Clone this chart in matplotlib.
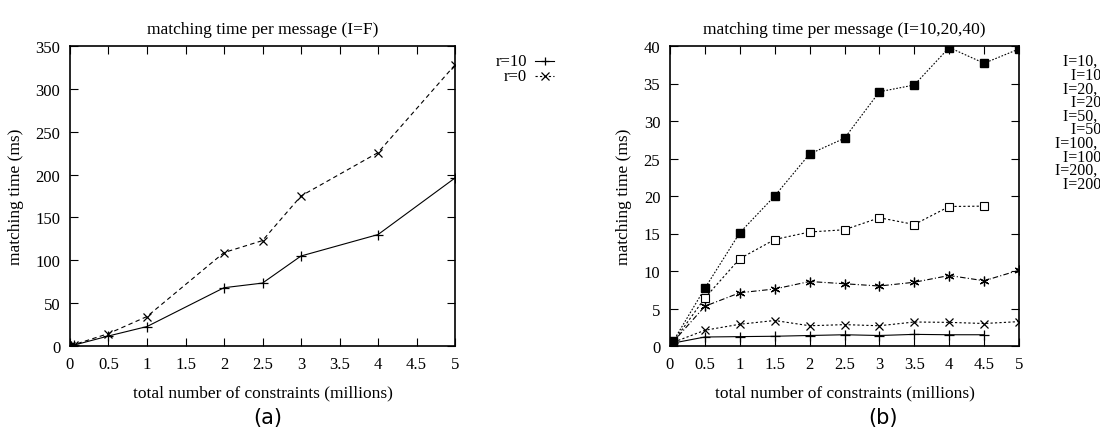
import matplotlib
matplotlib.use("Agg")
import matplotlib.pyplot as plt
from matplotlib.lines import Line2D

plt.rcParams['font.family'] = ['Liberation Serif', 'DejaVu Serif']

# ---------------- data (a) ----------------
x_a = [0.001, 0.01, 0.05, 0.5, 1, 2, 2.5, 3, 4, 5]
r10 = [0.05, 0.3, 1.0, 11.7, 22.7, 68, 73.4, 105, 130, 196]
r0 = [0.05, 0.4, 1.5, 14.5, 34.4, 109, 123, 175, 225.6, 328]
labels_a = ["r=10", "r=0"]
title_a = "matching time per message (I=F)"

# ---------------- data (b) ----------------
x_b = [0.01, 0.05, 0.5, 1, 1.5, 2, 2.5, 3, 3.5, 4, 4.5, 5]
s_plus = [0.1, 0.4, 1.2, 1.25, 1.3, 1.4, 1.5, 1.4, 1.55, 1.5, 1.5]
s_x = [0.15, 0.5, 2.1, 2.9, 3.4, 2.7, 2.85, 2.7, 3.2, 3.15, 3.0, 3.25]
s_star = [0.2, 0.6, 5.3, 7.1, 7.6, 8.6, 8.3, 8.0, 8.5, 9.4, 8.7, 10.1]
s_osq = [0.2, 0.6, 6.4, 11.65, 14.2, 15.2, 15.5, 17.1, 16.2, 18.6, 18.65]
s_fsq = [0.25, 0.7, 7.7, 15.1, 20.0, 25.6, 27.7, 33.9, 34.8, 39.8, 37.7, 39.6]
labels_b = ["I=10, r=10", "I=10, r=0", "I=20, r=10", "I=20, r=0",
            "I=50, r=10", "I=50, r=0", "I=100, r=10", "I=100, r=0",
            "I=200, r=10", "I=200, r=0"]
title_b = "matching time per message (I=10,20,40)"

xlabel = "total number of constraints (millions)"
ylabel = "matching time (ms)"
xticks = [0, 0.5, 1, 1.5, 2, 2.5, 3, 3.5, 4, 4.5, 5]
xticklabels = ["0", "0.5", "1", "1.5", "2", "2.5", "3", "3.5", "4", "4.5", "5"]

W, H = 1100, 435
fig = plt.figure(figsize=(11, 4.35), dpi=100)

def fx(px):
    return px / W

def fy(py):
    return 1 - py / H

fs = 12.5
fst = 12
ax1 = fig.add_axes([fx(70), fy(347), fx(455) - fx(70), fy(47) - fy(347)])
ax2 = fig.add_axes([fx(670), fy(347), fx(1019) - fx(670), fy(47) - fy(347)])

lw = 0.8
ax1.plot(x_a, r10, color='black', lw=lw, ls='-', marker='+', ms=7, mew=0.9)
ax1.plot(x_a, r0, color='black', lw=lw, ls=(0, (4, 3)), marker='x', ms=6, mew=0.9)
ax1.set_xlim(0, 5)
ax1.set_ylim(0, 350)
ax1.set_xticks(xticks)
ax1.set_xticklabels(xticklabels)
ax1.set_yticks(range(0, 351, 50))

n1 = len(s_plus)
n4 = len(s_osq)
ax2.plot(x_b[:n1], s_plus, color='black', lw=lw, ls='-', marker='+', ms=7, mew=0.9)
ax2.plot(x_b, s_x, color='black', lw=lw, ls=(0, (2, 2)), marker='x', ms=6, mew=0.9)
ax2.plot(x_b, s_star, color='black', lw=lw, ls=(0, (5, 2, 1, 2)), marker=(6, 2, 0), ms=7, mew=0.9)
ax2.plot(x_b[:n4], s_osq, color='black', lw=lw, ls=(0, (2, 2)), marker='s', ms=6,
         mfc='white', mec='black', mew=0.8)
ax2.plot(x_b, s_fsq, color='black', lw=lw, ls=(0, (1.5, 1.5)), marker='s', ms=6,
         mfc='black', mec='black')
ax2.set_xlim(0, 5)
ax2.set_ylim(0, 40)
ax2.set_xticks(xticks)
ax2.set_xticklabels(xticklabels)
ax2.set_yticks(range(0, 41, 5))

for ax, t in ((ax1, title_a), (ax2, title_b)):
    for s in ax.spines.values():
        s.set_linewidth(1.2)
    ax.tick_params(direction='in', top=True, right=True, length=6, width=0.8,
                   labelsize=fst, pad=7)
    ax.set_title(t, fontsize=fs, pad=9)
    ax.set_xlabel(xlabel, fontsize=fs, labelpad=9)
    ax.set_ylabel(ylabel, fontsize=fs, labelpad=8)

# legend (a)
for i, (lab, mk, ls) in enumerate(zip(labels_a, ['+', 'x'], ['-', (0, (2, 2))])):
    yy = 62 + i * 15
    fig.text(fx(527), fy(yy), lab, ha='right', va='center', fontsize=fst)
    fig.add_artist(Line2D([fx(535), fx(554)], [fy(yy), fy(yy)], color='black', lw=lw, ls=ls,
                          transform=fig.transFigure))
    fig.add_artist(Line2D([fx(544.5)], [fy(yy)], color='black', marker=mk, ms=6, mew=0.9,
                          transform=fig.transFigure))

# legend (b) (clipped at figure edge, as in the reference)
fsl = 11.5
renderer = fig.canvas.get_renderer()
tmp = fig.text(0, 0, labels_b[0], fontsize=fsl)
wpx = tmp.get_window_extent(renderer).width
tmp.remove()
xr = 1063 + wpx
for i, lab in enumerate(labels_b):
    yy = 62 + i * 13.6
    fig.text(fx(xr), fy(yy), lab, ha='right', va='center', fontsize=fsl)

fig.text(fx(268), fy(418), "(a)", ha='center', va='center', fontsize=15, family='DejaVu Sans')
fig.text(fx(883), fy(418), "(b)", ha='center', va='center', fontsize=15, family='DejaVu Sans')

fig.savefig("out.png", dpi=100)
